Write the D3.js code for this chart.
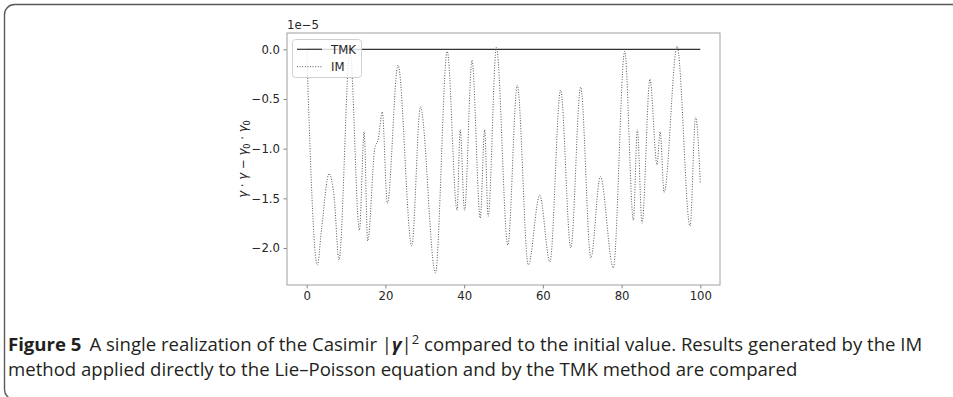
<!DOCTYPE html>
<html><head><meta charset="utf-8">
<script src="https://cdn.jsdelivr.net/npm/d3@7"></script>
<style>
html,body{margin:0;padding:0;background:#fff;}
svg{display:block;}
</style></head>
<body>
<svg id="chart" width="953" height="397"></svg>
<script>
// ---- data ----
const imT = [0, 2.7, 3.8, 5.7, 7.0, 8.2, 11.0, 13.4, 14.6, 15.5, 17.3, 18.2, 19.2, 20.5, 23.2, 26.7, 28.9, 32.7, 35.7, 38.2, 39.0, 40.1, 42.0, 44.1, 45.2, 46.1, 48.2, 51.1, 53.5, 56.3, 59.2, 61.8, 64.5, 67.1, 69.6, 72.2, 74.6, 77.9, 80.8, 83.0, 84.0, 85.2, 87.2, 89.0, 89.8, 90.8, 94.1, 97.4, 98.8, 100];
const imV = [0.00, -2.17, -1.80, -1.25, -1.50, -2.12, -0.01, -1.82, -0.83, -1.93, -1.00, -0.90, -0.63, -1.55, -0.16, -1.98, -0.58, -2.25, -0.02, -1.62, -0.81, -1.62, -0.11, -1.70, -0.81, -1.68, 0.02, -1.97, -0.36, -2.17, -1.47, -2.14, -0.41, -2.00, -0.38, -2.10, -1.28, -2.20, -0.02, -1.72, -0.81, -1.75, -0.30, -1.16, -0.83, -1.44, 0.03, -1.78, -0.68, -1.35];
const tmkT = [0, 100];
const tmkV = [0, 0];
const xTicks = [0, 20, 40, 60, 80, 100];
const yTicks = [0.0, -0.5, -1.0, -1.5, -2.0];
const seriesNames = ["TMK", "IM"];

const svg = d3.select("#chart");

// frame
svg.append("rect").attr("x",4.5).attr("y",4.5).attr("width",1000).attr("height",395)
  .attr("rx",10).attr("fill","none").attr("stroke","#5a5a5a").attr("stroke-width",1.4);

const L = 287, R = 720, T = 33, B = 285;
const x = d3.scaleLinear().domain([-5, 105]).range([L, R]);
const y = d3.scaleLinear().domain([-2.372, 0.164]).range([B, T]);

const font = "DejaVu Sans, sans-serif";
const fs = 11.7;

// axes
const gx = svg.append("g").attr("transform",`translate(0,${B})`)
  .call(d3.axisBottom(x).tickValues(xTicks).tickSize(3.5).tickPadding(3.5).tickFormat(d3.format("d")));
const gy = svg.append("g").attr("transform",`translate(${L},0)`)
  .call(d3.axisLeft(y).tickValues(yTicks).tickSize(3.5).tickPadding(3.5)
    .tickFormat(d => d3.format(".1f")(d).replace("-", "\u2212")));
[gx, gy].forEach(g => {
  g.select(".domain").remove();
  g.selectAll("line").attr("stroke","#666").attr("stroke-width",0.8);
  g.selectAll("text").attr("font-family",font).attr("font-size",fs).attr("fill","#262626");
});

// spines
svg.append("rect").attr("x",L).attr("y",T).attr("width",R-L).attr("height",B-T)
  .attr("fill","none").attr("stroke","#a0a0a0").attr("stroke-width",1);

// offset text
svg.append("text").attr("x",L).attr("y",T-4).attr("font-family",font).attr("font-size",fs)
  .attr("fill","#262626").text("1e\u22125");

// y label
const yl = svg.append("text").attr("transform",`translate(247,${(T+B)/2}) rotate(-90)`)
  .attr("text-anchor","middle").attr("font-family",font).attr("font-size",fs).attr("fill","#262626");
yl.append("tspan").attr("font-style","italic").text("\u03b3");
yl.append("tspan").text(" \u00b7 ");
yl.append("tspan").attr("font-style","italic").text("\u03b3");
yl.append("tspan").text(" \u2212 ");
yl.append("tspan").attr("font-style","italic").text("\u03b3");
yl.append("tspan").attr("font-size",fs*0.7).attr("dy",2.5).text("0");
yl.append("tspan").attr("dy",-2.5).text(" \u00b7 ");
yl.append("tspan").attr("font-style","italic").text("\u03b3");
yl.append("tspan").attr("font-size",fs*0.7).attr("dy",2.5).text("0");

// lines
const line = d3.line().x(d => x(d[0])).y(d => y(d[1]));
const imPts = imT.map((t,i) => [t, imV[i]]);
const tmkPts = tmkT.map((t,i) => [t, tmkV[i]]);

svg.append("path").datum(tmkPts).attr("d", line).attr("fill","none")
  .attr("stroke","#333").attr("stroke-width",1.2);
svg.append("path").datum(imPts).attr("d", line.curve(d3.curveMonotoneX)).attr("fill","none")
  .attr("stroke","#555").attr("stroke-width",1).attr("stroke-dasharray","1,1.6");

// legend
const lg = svg.append("g");
lg.append("rect").attr("x",292.5).attr("y",39.5).attr("width",69).attr("height",38).attr("rx",3)
  .attr("fill","#fff").attr("fill-opacity",0.8).attr("stroke","#d0d0d0").attr("stroke-width",1);
const legY = [49.3, 66.7];
lg.append("line").attr("x1",297).attr("x2",322).attr("y1",legY[0]).attr("y2",legY[0])
  .attr("stroke","#333").attr("stroke-width",1.2);
lg.append("line").attr("x1",297).attr("x2",322).attr("y1",legY[1]).attr("y2",legY[1])
  .attr("stroke","#555").attr("stroke-width",1).attr("stroke-dasharray","1,1.6");
seriesNames.forEach((n,i) => {
  lg.append("text").attr("x",331).attr("y",legY[i]+4.2).attr("font-family",font).attr("font-size",fs)
    .attr("fill","#262626").text(n);
});

// caption
const capFont = "'Open Sans', sans-serif";
let capFs = 17;
const c1 = svg.append("text").attr("x",8).attr("y",351).attr("font-family",capFont).attr("font-size",capFs).attr("fill","#231f20");
c1.append("tspan").attr("font-weight","bold").text("Figure 5");
c1.append("tspan").attr("dx",8).text("A single realization of the Casimir |");
c1.append("tspan").attr("font-weight","bold").attr("font-style","italic").text("\u03b3");
c1.append("tspan").text("|");
const sup = c1.append("tspan").attr("font-size",capFs*0.7).attr("dy",-7).text("2");
c1.append("tspan").attr("dy",7).text(" compared to the initial value. Results generated by the IM");
const c2 = svg.append("text").attr("x",8).attr("y",376).attr("font-family",capFont).attr("font-size",capFs).attr("fill","#231f20")
  .text("method applied directly to the Lie\u2013Poisson equation and by the TMK method are compared");
// fit caption size to the reference line width
const w2 = c2.node().getComputedTextLength();
capFs = capFs * 790 / w2;
c1.attr("font-size",capFs); c2.attr("font-size",capFs); sup.attr("font-size",capFs*0.7);
</script>
</body></html>
